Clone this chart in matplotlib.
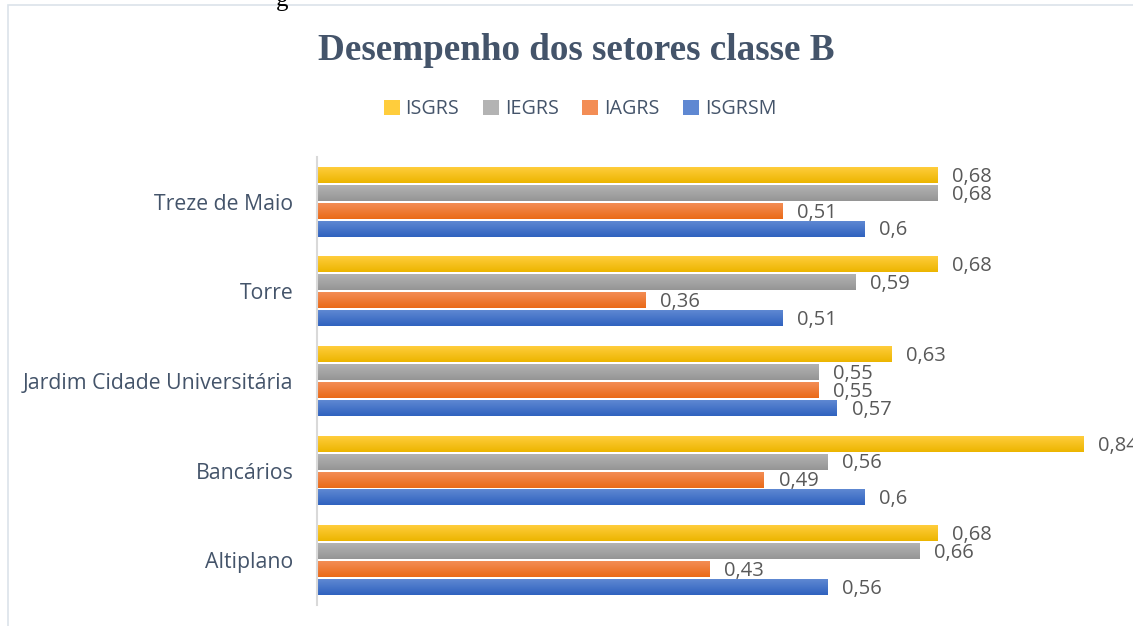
import matplotlib.pyplot as plt
import numpy as np
from matplotlib.colors import LinearSegmentedColormap
from matplotlib.patches import Patch, Rectangle

# dados
setores = ['Treze de Maio', 'Torre', 'Jardim Cidade Universitária', 'Bancários', 'Altiplano']
series = ['ISGRS', 'IEGRS', 'IAGRS', 'ISGRSM']
isgrs = [0.68, 0.68, 0.63, 0.84, 0.68]
iegrs = [0.68, 0.59, 0.55, 0.56, 0.66]
iagrs = [0.51, 0.36, 0.55, 0.49, 0.43]
isgrsm = [0.6, 0.51, 0.57, 0.6, 0.56]

valores = [isgrs, iegrs, iagrs, isgrsm]
# cores (topo, base) para o degradê estilo Excel
cores = [('#FFCD3C', '#ECB500'),
         ('#B3B3B3', '#959595'),
         ('#F38D55', '#EA6A18'),
         ('#5F88D2', '#2F62BF')]
cor_texto = '#595959'
cor_eixo = '#44546A'

fig = plt.figure(figsize=(11.33, 6.26), dpi=100)
ax = fig.add_axes([317 / 1133, (626 - 605) / 626, (1138 - 317) / 1133, (605 - 157) / 626])

n = len(setores)
y = np.arange(n)[::-1]  # Treze de Maio no topo
passo = 0.2
altura = 0.178

for i, (vals, (c_top, c_bot)) in enumerate(zip(valores, cores)):
    pos = y + (1.5 - i) * passo
    bars = ax.barh(pos, vals, height=altura, color=c_bot, zorder=2)
    cmap = LinearSegmentedColormap.from_list(f'g{i}', [c_bot, c_top])
    grad = np.linspace(0, 1, 64).reshape(-1, 1)
    for rect in bars:
        x0, y0 = rect.get_x(), rect.get_y()
        w, h = rect.get_width(), rect.get_height()
        ax.imshow(grad, extent=[x0, x0 + w, y0, y0 + h], origin='lower',
                  aspect='auto', cmap=cmap, zorder=3, interpolation='bilinear')
    for p, v in zip(pos, vals):
        ax.text(v + 0.016, p - 0.02, f'{v:g}'.replace('.', ','), va='center', ha='left',
                fontsize=14.5, color=cor_texto, family='Open Sans', clip_on=False)

ax.set_xlim(0, 0.9)
ax.set_ylim(-0.5, n - 0.5)
ax.set_yticks(y)
ax.set_yticklabels(setores, fontsize=15.3, color=cor_eixo, family='Open Sans')
ax.tick_params(axis='y', length=0, pad=17)
ax.set_xticks([])
for s in ['top', 'right', 'bottom']:
    ax.spines[s].set_visible(False)
ax.spines['left'].set_color('#D9D9D9')
ax.spines['left'].set_linewidth(1.5)
ax.spines['left'].set_zorder(5)

fig.text(576 / 1133, 1 - 50 / 626, 'Desempenho dos setores classe B', ha='center', va='center',
         fontsize=26.7, fontweight='bold', color=cor_eixo, family='Liberation Serif')

handles = [Patch(facecolor=c[0], edgecolor='none') for c in cores]
fig.legend(handles, series, loc='center', bbox_to_anchor=(580 / 1133, 1 - 109 / 626), ncol=4,
           frameon=False, handlelength=0.8, handleheight=0.8, handletextpad=0.3,
           columnspacing=1.2, prop={'family': 'Open Sans', 'size': 14.2}, labelcolor=cor_eixo)

# moldura clara do gráfico
fig.add_artist(Rectangle((8 / 1133, -0.01), 1.2, 1 - 5 / 626 + 0.01, transform=fig.transFigure,
                         fill=False, edgecolor='#DCE3EA', linewidth=1.2))
# resto da legenda cortada acima do gráfico
fig.text(282 / 1133, 1.0, 'g', ha='center', va='center', fontsize=18,
         family='Liberation Serif', color='black')

fig.savefig('out.png', dpi=100)
